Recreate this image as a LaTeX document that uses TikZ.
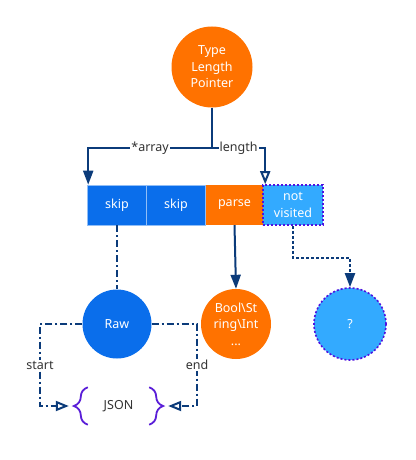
\documentclass[tikz,border=0pt]{standalone}
\usepackage{fontspec}
\setmainfont{Noto Sans}
\usetikzlibrary{arrows.meta,decorations.pathreplacing}

\definecolor{navy}{HTML}{0B3B7A}
\definecolor{skipblue}{HTML}{0A6EEB}
\definecolor{parseorange}{HTML}{FF7200}
\definecolor{lightblue}{HTML}{33AAFF}
\definecolor{dotpurple}{HTML}{4F12E0}
\definecolor{bracepurple}{HTML}{5A1ED8}
\definecolor{labelgray}{HTML}{333333}

\tikzset{
  conn/.style={draw=navy, line width=2pt},
  cell/.style={minimum width=59pt, minimum height=40pt, inner sep=0pt, text=white, align=center},
  ball/.style={circle, inner sep=0pt, text=white, align=center},
  fillarrow/.style={-{Triangle[length=14pt,width=10pt]}},
  openarrow/.style={-{Triangle[open,length=13pt,width=10pt]}},
  dashdot/.style={dash pattern=on 7pt off 3pt on 2pt off 3pt},
  dotline/.style={dash pattern=on 3pt off 2pt},
  dotrim/.style={draw=dotpurple, line width=1.6pt, dash pattern=on 2pt off 2pt},
  tag/.style={fill=white, text=labelgray, inner sep=1pt}
}

\begin{document}
\begin{tikzpicture}[x=1pt, y=-1pt, font=\fontsize{12.5}{16.5}\selectfont]
    \useasboundingbox[fill=white] (0,0) rectangle (415,460);

    % header and cells
    \node[ball, fill=parseorange, minimum size=81pt] (tlp) at (212,67) {Type\\Length\\Pointer};
    \node[cell, fill=skipblue, draw=white!55!skipblue, line width=0.6pt] (skip1) at (117,205) {skip};
    \node[cell, fill=skipblue, draw=white!55!skipblue, line width=0.6pt] (skip2) at (176,205) {skip};
    \node[cell, fill=parseorange, minimum width=57pt] (parse) at (234.5,205) {parse};
    \node[cell, fill=lightblue, dotrim, minimum width=60pt] (nv) at (293,205) {not\\visited};

    % values
    \node[ball, fill=skipblue, minimum size=69pt] (raw) at (117,324) {Raw};
    \node[ball, fill=parseorange, minimum size=70pt] (bool) at (236,324) {Bool\textbackslash St\\ring\textbackslash Int\\...};
    \node[ball, fill=lightblue, dotrim, minimum size=72pt] (q) at (350,324) {?};
    \node[text=labelgray, minimum width=61pt, minimum height=37pt] (json) at (118.5,406) {JSON};

    \coordinate (fork) at (212,148);
    \coordinate (sbend) at (40,406);
    \coordinate (ebend) at (197,406);

    \draw[conn] (tlp.south) -- (fork);
    \draw[conn, fillarrow] (fork) -| node[pos=0.25, tag]{*array} ([xshift=1pt]skip1.north west);
    \draw[conn, openarrow] (fork) -| node[pos=0.25, tag]{length} ([xshift=3pt]nv.north west);

    \draw[conn, dashdot] (skip1.south) -- (raw.north);
    \draw[conn, fillarrow] (parse.south) -- (bool.north);
    \draw[conn, dotline, fillarrow] (nv.south) -- ++(0,32) -| (q.north);

    \draw[conn, dashdot, openarrow] (raw.west) -| node[pos=0.75, tag]{start} (sbend) -- ([xshift=-19pt]json.west);
    \draw[conn, dashdot, openarrow] (raw.east) -| node[pos=0.75, tag]{end} (ebend) -- ([xshift=19pt]json.east);

    % braces round JSON
    \draw[bracepurple, line width=1.8pt, decorate, decoration={brace, amplitude=14pt}] (json.south west) -- (json.north west);
    \draw[bracepurple, line width=1.8pt, decorate, decoration={brace, amplitude=14pt}] (json.north east) -- (json.south east);

\end{tikzpicture}
\end{document}
